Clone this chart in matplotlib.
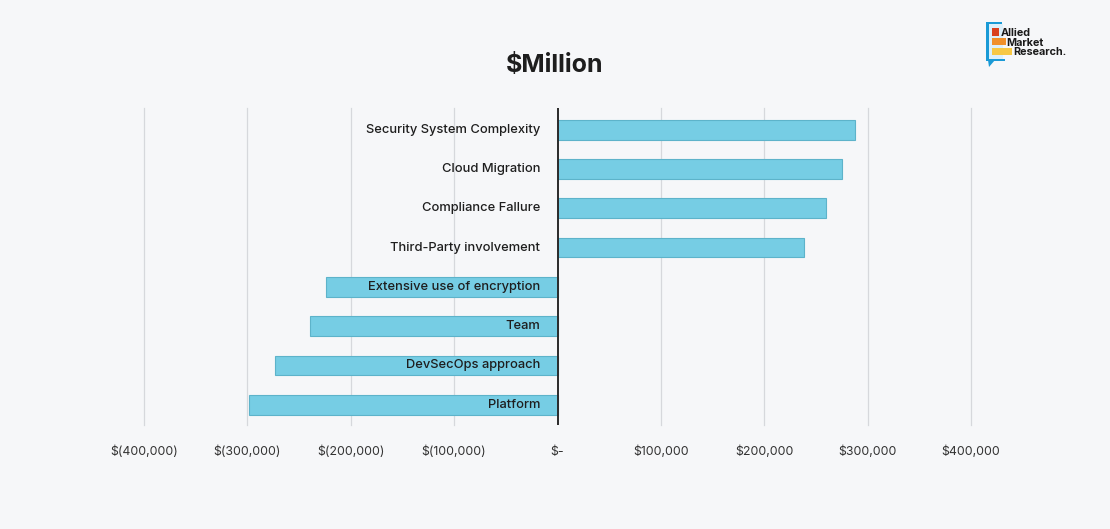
import matplotlib
matplotlib.use("Agg")
import matplotlib.pyplot as plt
from matplotlib.patches import Rectangle, Polygon
import numpy as np

categories = ["Security System Complexity", "Cloud Migration", "Compliance Fallure",
              "Third-Party involvement", "Extensive use of encryption", "Team",
              "DevSecOps approach", "Platform"]
values = [287500, 275000, 259600, 238400, -223700, -239000, -273600, -298000]
xticks = [-400000, -300000, -200000, -100000, 0, 100000, 200000, 300000, 400000]
xtick_labels = ["$(400,000)", "$(300,000)", "$(200,000)", "$(100,000)", "$-",
                "$100,000", "$200,000", "$300,000", "$400,000"]
title = "$Million"

FONT = ["Inter", "DejaVu Sans"]
plt.rcParams['font.family'] = FONT

W, H = 1110, 529
fig = plt.figure(figsize=(W / 100, H / 100), dpi=100)
fig.patch.set_facecolor("#f6f7f9")

left, right, top, bottom = 144, 971, 108, 425
ax = fig.add_axes([left / W, 1 - bottom / H, (right - left) / W, (bottom - top) / H])
ax.set_facecolor("none")
ax.set_xlim(-400000, 400000)
ypos = np.arange(len(categories))
ax.set_ylim(len(categories) - 1 + 0.514, -0.552)

for x in xticks:
    if x != 0:
        ax.axvline(x, color="#d6d8dc", lw=0.9, zorder=0, clip_on=False)

ax.barh(ypos, values, height=0.5, color="#76cde4", edgecolor="#5db3ca",
        linewidth=0.8, zorder=2)
ax.axvline(0, color="#2a2a2a", lw=1.4, zorder=3)

for y, lab in zip(ypos, categories):
    ax.text(-16500, y, lab, ha="right", va="center", fontsize=9.3,
            color="#1e1e1e", fontweight="medium", zorder=4)

ax.set_xticks(xticks)
ax.set_xticklabels(xtick_labels, fontsize=8.9, color="#333333")
ax.set_yticks([])
ax.tick_params(axis="x", length=0, pad=15)
for s in ax.spines.values():
    s.set_visible(False)

fig.text(554.5 / W, 1 - 66 / H, title, ha="center", va="center", fontsize=18,
         fontweight="bold", color="#1e1e1e")

# Logo overlay
lg = fig.add_axes([0, 0, 1, 1])
lg.set_xlim(0, W)
lg.set_ylim(H, 0)
lg.axis("off")
blue = "#1a9ad6"
lg.add_patch(Rectangle((987, 23.5), 16, 36, facecolor="#dcf0fb", edgecolor="none"))
lg.add_patch(Rectangle((985.5, 22), 3, 39, facecolor=blue, edgecolor="none"))
lg.add_patch(Rectangle((985.5, 22), 16, 2.2, facecolor=blue, edgecolor="none"))
lg.add_patch(Rectangle((985.5, 58.5), 19, 2.4, facecolor=blue, edgecolor="none"))
lg.add_patch(Polygon([(988, 60), (995, 60), (989, 67)], closed=True, facecolor=blue, edgecolor="none"))
lg.add_patch(Rectangle((992.3, 28.3), 6.7, 7.7, facecolor="#d9401e", edgecolor="none"))
lg.add_patch(Rectangle((992.3, 37.7), 13.4, 7.6, facecolor="#f0902a", edgecolor="none"))
lg.add_patch(Rectangle((992.3, 47.7), 19.7, 7.3, facecolor="#f7c844", edgecolor="none"))
for tx, ty, t in [(1000.5, 36, "Allied"), (1006.5, 45.5, "Market"), (1013, 55, "Research.")]:
    lg.text(tx, ty, t, ha="left", va="baseline", fontsize=7.8, fontweight="bold",
            color="#1a1a1a")

fig.savefig("out.png", dpi=100, facecolor=fig.get_facecolor())
